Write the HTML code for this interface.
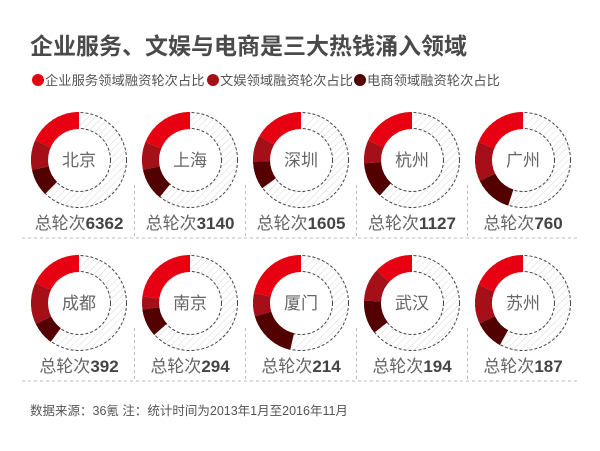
<!DOCTYPE html>
<html><head><meta charset="utf-8">
<style>
body{margin:0;background:#fff;}
svg{display:block;font-family:"Liberation Sans","Noto Sans CJK SC",sans-serif;}
</style></head>
<body>
<svg id="chart" width="600" height="451" viewBox="0 0 600 451">
<defs>
<pattern id="hatch" patternUnits="userSpaceOnUse" width="5" height="5" patternTransform="rotate(45)">
<rect width="5" height="5" fill="#fff"/>
<line x1="0" y1="0" x2="0" y2="5" stroke="#d8d8d8" stroke-width="1"/>
</pattern>
</defs>
<text x="30" y="54" font-size="23" font-weight="bold" fill="#4a4a4a">企业服务、文娱与电商是三大热钱涌入领域</text>
<g>
<circle cx="38" cy="80" r="6" fill="#e60012"/>
<text x="45" y="85" font-size="13.3" fill="#555">企业服务领域融资轮次占比</text>
<circle cx="213" cy="80" r="6" fill="#a51018"/>
<text x="220" y="85" font-size="13.3" fill="#555">文娱领域融资轮次占比</text>
<circle cx="360" cy="80" r="6" fill="#520000"/>
<text x="367" y="85" font-size="13.3" fill="#555">电商领域融资轮次占比</text>
</g>
<g id="grid"></g>
<g id="donuts"></g>
<text x="30" y="415" font-size="12.5" fill="#555">数据来源：36氪  注：统计时间为2013年1月至2016年11月</text>
</svg>
<script>
const cities = ["北京","上海","深圳","杭州","广州","成都","南京","厦门","武汉","苏州"];
const totals = [6362,3140,1605,1127,760,392,294,214,194,187];
const enterprisePct = [18.3,18.9,16.7,18.3,18.9,18.1,22.8,21.7,13.1,18.9];
const entertainmentPct = [10,9.4,8.9,7.8,13.3,14.1,4.4,7.8,11.1,13.1];
const ecommercePct = [9.2,10.8,9.4,12.2,12.8,7.8,9.4,16.9,11.4,10];

const NS="http://www.w3.org/2000/svg";
const colX = c => 79 + c*111;
const rowY = r => 160 + r*143;
const RO=48, RI=31;
const colors=["#e60012","#a51018","#520000"];
function pt(cx,cy,r,pct){const a=-Math.PI/2 - pct/100*2*Math.PI;return [cx+r*Math.cos(a),cy+r*Math.sin(a)];}
function arcPath(cx,cy,p0,p1){
  const large=(p1-p0)>50?1:0;
  const [x0,y0]=pt(cx,cy,RO,p0),[x1,y1]=pt(cx,cy,RO,p1),[x2,y2]=pt(cx,cy,RI,p1),[x3,y3]=pt(cx,cy,RI,p0);
  return `M${x0},${y0}A${RO},${RO} 0 ${large} 0 ${x1},${y1}L${x2},${y2}A${RI},${RI} 0 ${large} 1 ${x3},${y3}Z`;
}
const g=document.getElementById('donuts');
const grid=document.getElementById('grid');
function mk(tag,attrs,parent){const e=document.createElementNS(NS,tag);for(const k in attrs)e.setAttribute(k,attrs[k]);parent.appendChild(e);return e;}
for(let r=0;r<2;r++){
  const hl=mk('line',{x1:22,x2:578,y1:rowY(r)+78,y2:rowY(r)+78,stroke:'#bbb','stroke-dasharray':'3,3'},grid);
  
  
  for(let c=1;c<5;c++){
    const vl=mk('line',{x1:colX(c)-55.5,x2:colX(c)-55.5,y1:rowY(r)+25,y2:rowY(r)+78,stroke:'#bbb','stroke-dasharray':'3,3'},grid);
    
    
  }
}
cities.forEach((city,i)=>{
  const cx=colX(i%5), cy=rowY(Math.floor(i/5));
  const grp=mk('g',{},g);
  
  
  const bg=mk('path',{d:`M${cx},${cy-RO}A${RO},${RO} 0 1 1 ${cx},${cy+RO}A${RO},${RO} 0 1 1 ${cx},${cy-RO}ZM${cx},${cy-RI}A${RI},${RI} 0 1 0 ${cx},${cy+RI}A${RI},${RI} 0 1 0 ${cx},${cy-RI}Z`,fill:'url(#hatch)','fill-rule':'evenodd'},grp);
  
  
  const c1=mk('circle',{cx:cx,cy:cy,r:RO-0.5,fill:'none',stroke:'#444','stroke-width':1,'stroke-dasharray':'3,2'},grp);
  
  
  const c2=mk('circle',{cx:cx,cy:cy,r:RI+0.5,fill:'none',stroke:'#444','stroke-width':1,'stroke-dasharray':'3,2'},grp);
  
  
  const vals=[enterprisePct[i],entertainmentPct[i],ecommercePct[i]];
  const names=['enterprise','entertainment','ecommerce'];
  let acc=0;
  vals.forEach((v,k)=>{
    const p=mk('path',{d:arcPath(cx,cy,acc,acc+v),fill:colors[k]},grp);
    
    
    acc+=v;
  });
  const lbl=mk('text',{x:cx,y:cy+6,'text-anchor':'middle','font-size':17,fill:'#666'},grp);
  lbl.textContent=city;
  
  
  const t=mk('text',{x:cx,y:cy+69,'text-anchor':'middle','font-size':17,fill:'#666'},grp);
  
  
  const s1=mk('tspan',{},t);s1.textContent='总轮次';
  const s2=mk('tspan',{'font-weight':'bold',fill:'#444'},t);s2.textContent=totals[i];
});
</script>
</body></html>
